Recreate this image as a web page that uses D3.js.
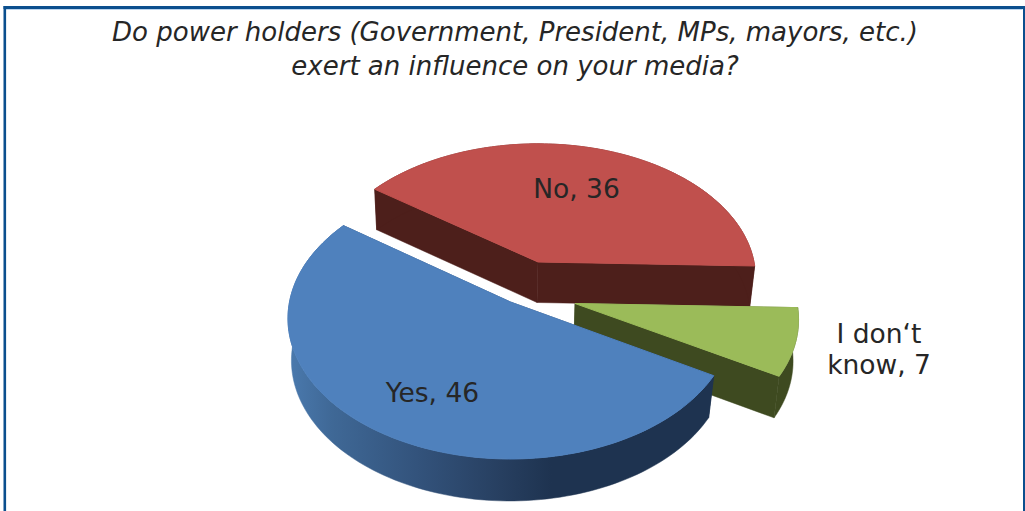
<!DOCTYPE html>
<html><head><meta charset="utf-8">
<script src="https://cdn.jsdelivr.net/npm/d3@7/dist/d3.min.js"></script>
<style>html,body{margin:0;padding:0;background:#fff;overflow:hidden}svg{display:block}text{font-family:"DejaVu Sans",sans-serif;fill:#262626}</style>
</head><body><svg id="c" width="1025" height="511"></svg>
<script>
const categories = ['No', 'I don‘t know', 'Yes'];
const values = [36, 7, 46];
const titleLines = ['Do power holders (Government, President, MPs, mayors, etc.)', 'exert an influence on your media?'];
const colors = ['#c0504d', '#9bbb59', '#4f81bd'];
const wallColors = ['#4d1f1b', '#3e4a20', 'url(#blueWall)'];

const W = 1025, H = 511, deg = Math.PI / 180, k = 0.117;
const geom = [
  {ax: 538, ay: 262, R: 216, S: 132, depth: 40.5, shrink: .982, label: [38.5, -73]},
  {ax: 575, ay: 303.5, R: 222, S: 137, depth: 41.5, shrink: .98, label: [304, 45]},
  {ax: 510.5, ay: 302, R: 221, S: 138.6, depth: 42, shrink: .98, label: [-78, 91]}
];
const svg = d3.select('#c');
const defs = svg.append('defs');
const g = defs.append('linearGradient').attr('id', 'blueWall').attr('gradientUnits', 'userSpaceOnUse')
  .attr('x1', 290).attr('x2', 712).attr('y1', 0).attr('y2', 0);
[[0, '#4a79ad'], [.1, '#3f6896'], [.3, '#33537c'], [.5, '#273f60'], [.62, '#1e3350'], [1, '#1e3350']]
  .forEach(s => g.append('stop').attr('offset', s[0]).attr('stop-color', s[1]));

// frame
const frame = svg.append('g');
frame.append('rect').attr('x', 3.5).attr('y', 6).attr('width', W - 5).attr('height', 3).attr('fill', '#0b4f8e');
frame.append('rect').attr('x', 6).attr('y', 9).attr('width', W - 8.5).attr('height', 1).attr('fill', '#bcd5ee');
frame.append('rect').attr('x', 3.5).attr('y', 6).attr('width', 2.6).attr('height', H - 6).attr('fill', '#0b4f8e');
frame.append('rect').attr('x', 1023).attr('y', 6).attr('width', 2).attr('height', H - 6).attr('fill', '#0b4f8e');

// title
svg.append('g').selectAll('text').data(titleLines).join('text')
  .attr('x', 515).attr('y', (d, i) => 41 + i * 33.5).attr('text-anchor', 'middle')
  .attr('font-style', 'italic').attr('font-size', 26).text(d => d);

const arcs = d3.pie().sort(null).value(d => d)
  .startAngle(-53.9 * deg).endAngle(306.1 * deg)(values);

// perspective projection of the unit disc
function project(p, a, r, low) {
  const u = r * Math.sin(a), v = r * Math.cos(a), w = 1 + k * v;
  const s = low ? p.shrink : 1;
  return [p.ax - (low ? 1 : 0) + p.R * s * u / w, p.ay + (low ? p.depth : 0) - p.S * v / w];
}
const line = d3.line();
const samples = (a, b) => d3.range(0, 121).map(i => a + (b - a) * i / 120);

const slices = svg.append('g').selectAll('g').data(arcs).join('g');
slices.each(function(d, i) {
  const p = geom[i], n = d3.select(this);
  const wall = wallColors[i];
  const solid = i === 2 ? '#1e3350' : wall;
  [d.startAngle, d.endAngle].forEach(a => {
    n.append('path').attr('fill', solid).attr('stroke', solid).attr('stroke-width', .5)
      .attr('d', line([project(p, a, 0), project(p, a, 1), project(p, a, 1, true), project(p, a, 0, true)]) + 'Z');
  });
  const as = samples(d.startAngle, d.endAngle);
  n.append('path').attr('fill', wall).attr('stroke', wall).attr('stroke-width', .5)
    .attr('d', line(as.map(a => project(p, a, 1)).concat(as.slice().reverse().map(a => project(p, a, 1, true)))) + 'Z');
  n.append('path').attr('fill', colors[i]).attr('stroke', colors[i]).attr('stroke-width', 1)
    .attr('d', line([project(p, 0, 0)].concat(as.map(a => project(p, a, 1)))) + 'Z');
});

// labels
const labelG = svg.append('g');
arcs.forEach((d, i) => {
  const p = geom[i];
  const t = labelG.append('text').attr('text-anchor', 'middle').attr('font-size', 26.5)
    .attr('x', p.ax + p.label[0]).attr('y', p.ay + p.label[1] + 9);
  const txt = `${categories[i]}, ${values[i]}`;
  if (i === 1) {
    t.attr('y', p.ay + p.label[1] - 6);
    t.append('tspan').attr('x', p.ax + p.label[0]).text('I don‘t');
    t.append('tspan').attr('x', p.ax + p.label[0]).attr('dy', 31).text('know, ' + values[i]);
  } else t.text(txt);
});
</script></body></html>
